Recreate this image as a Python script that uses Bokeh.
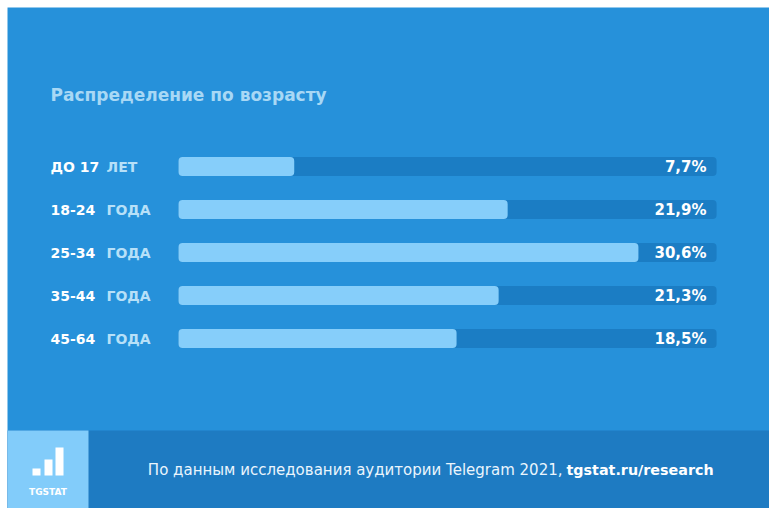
from bokeh.plotting import figure
from bokeh.models import Range1d
from bokeh.core.properties import value
from bokeh.embed import file_html
from bokeh.resources import INLINE

# ---- data ----
age_groups = ["ДО 17", "18-24", "25-34", "35-44", "45-64"]
age_units = ["ЛЕТ", "ГОДА", "ГОДА", "ГОДА", "ГОДА"]
shares = [7.7, 21.9, 30.6, 21.3, 18.5]
share_labels = ["7,7%", "21,9%", "30,6%", "21,3%", "18,5%"]
track_max = 35.8
title_text = "Распределение по возрасту"
source_text = "По данным исследования аудитории Telegram 2021,"
source_link = "tgstat.ru/research"
logo_text = "TGSTAT"

# ---- layout / style ----
W, H = 769, 508
EDGE = 7
PX_PER_PCT = 15.03
ROW_PX = 43
X0_PAGE = 178
Y0_PAGE = 166

BG = "#2691DA"
TRACK = "#1B7DC4"
BAR = "#86CEFA"
FOOT = "#1E7BC2"
LOGO_BG = "#82CCFA"
TITLE_C = "#A8D8F5"
UNIT_C = "#B7E0F8"
FONT = "DejaVu Sans"


def X(px):
    return (px - X0_PAGE) / PX_PER_PCT


def Y(py):
    return (py - Y0_PAGE) / ROW_PX


p = figure(width=W, height=H, output_backend="svg", toolbar_location=None,
           x_range=Range1d(X(EDGE), X(W)),
           y_range=Range1d(Y(H), Y(EDGE)),
           min_border=0, min_border_left=EDGE, min_border_right=0,
           min_border_top=EDGE, min_border_bottom=0)
p.axis.visible = False
p.grid.visible = False
p.outline_line_color = None
p.background_fill_color = BG
p.border_fill_color = "white"

rows = list(range(len(shares)))
bar_h = 19 / ROW_PX

# tracks and bars
p.hbar(y=rows, left=0, right=track_max, height=bar_h, fill_color=TRACK,
       line_color=None, border_radius=4)
p.hbar(y=rows, left=0, right=shares, height=bar_h, fill_color=BAR,
       line_color=None, border_radius=4)

# value labels
p.text(x=X(706), y=rows, text=share_labels, text_align="right",
       text_baseline="middle", text_color="white", text_font=value(FONT),
       text_font_style="bold", text_font_size="15px")

# category labels
p.text(x=X(50), y=rows, text=age_groups, text_align="left",
       text_baseline="middle", text_color="white", text_font=value(FONT),
       text_font_style="bold", text_font_size="14px")
p.text(x=X(106), y=rows, text=age_units, text_align="left",
       text_baseline="middle", text_color=UNIT_C, text_font=value(FONT),
       text_font_style="bold", text_font_size="14px")

# title
p.text(x=[X(50)], y=[Y(94)], text=[title_text], text_align="left",
       text_baseline="middle", text_color=TITLE_C, text_font=value(FONT),
       text_font_style="bold", text_font_size="17px")

# footer
p.quad(left=X(EDGE), right=X(W), top=Y(430), bottom=Y(H),
       fill_color=FOOT, line_color=None)
p.quad(left=X(EDGE), right=X(88), top=Y(430), bottom=Y(H),
       fill_color=LOGO_BG, line_color=None)
p.quad(left=[X(32), X(44), X(55)], right=[X(40), X(52), X(63)],
       top=[Y(468), Y(459), Y(447)], bottom=Y(475),
       fill_color="white", line_color=None)
p.text(x=[X(47.5)], y=[Y(491)], text=[logo_text], text_align="center",
       text_baseline="middle", text_color="white", text_font=value(FONT),
       text_font_style="bold", text_font_size="9px")

p.text(x=[X(562)], y=[Y(469)], text=[source_text], text_align="right",
       text_baseline="middle", text_color="#EAF5FD", text_font=value(FONT),
       text_font_size="15px")
p.text(x=[X(566)], y=[Y(469)], text=[source_link], text_align="left",
       text_baseline="middle", text_color="white", text_font=value(FONT),
       text_font_style="bold", text_font_size="14.3px")

open("out.html", "w").write(file_html(p, INLINE))
